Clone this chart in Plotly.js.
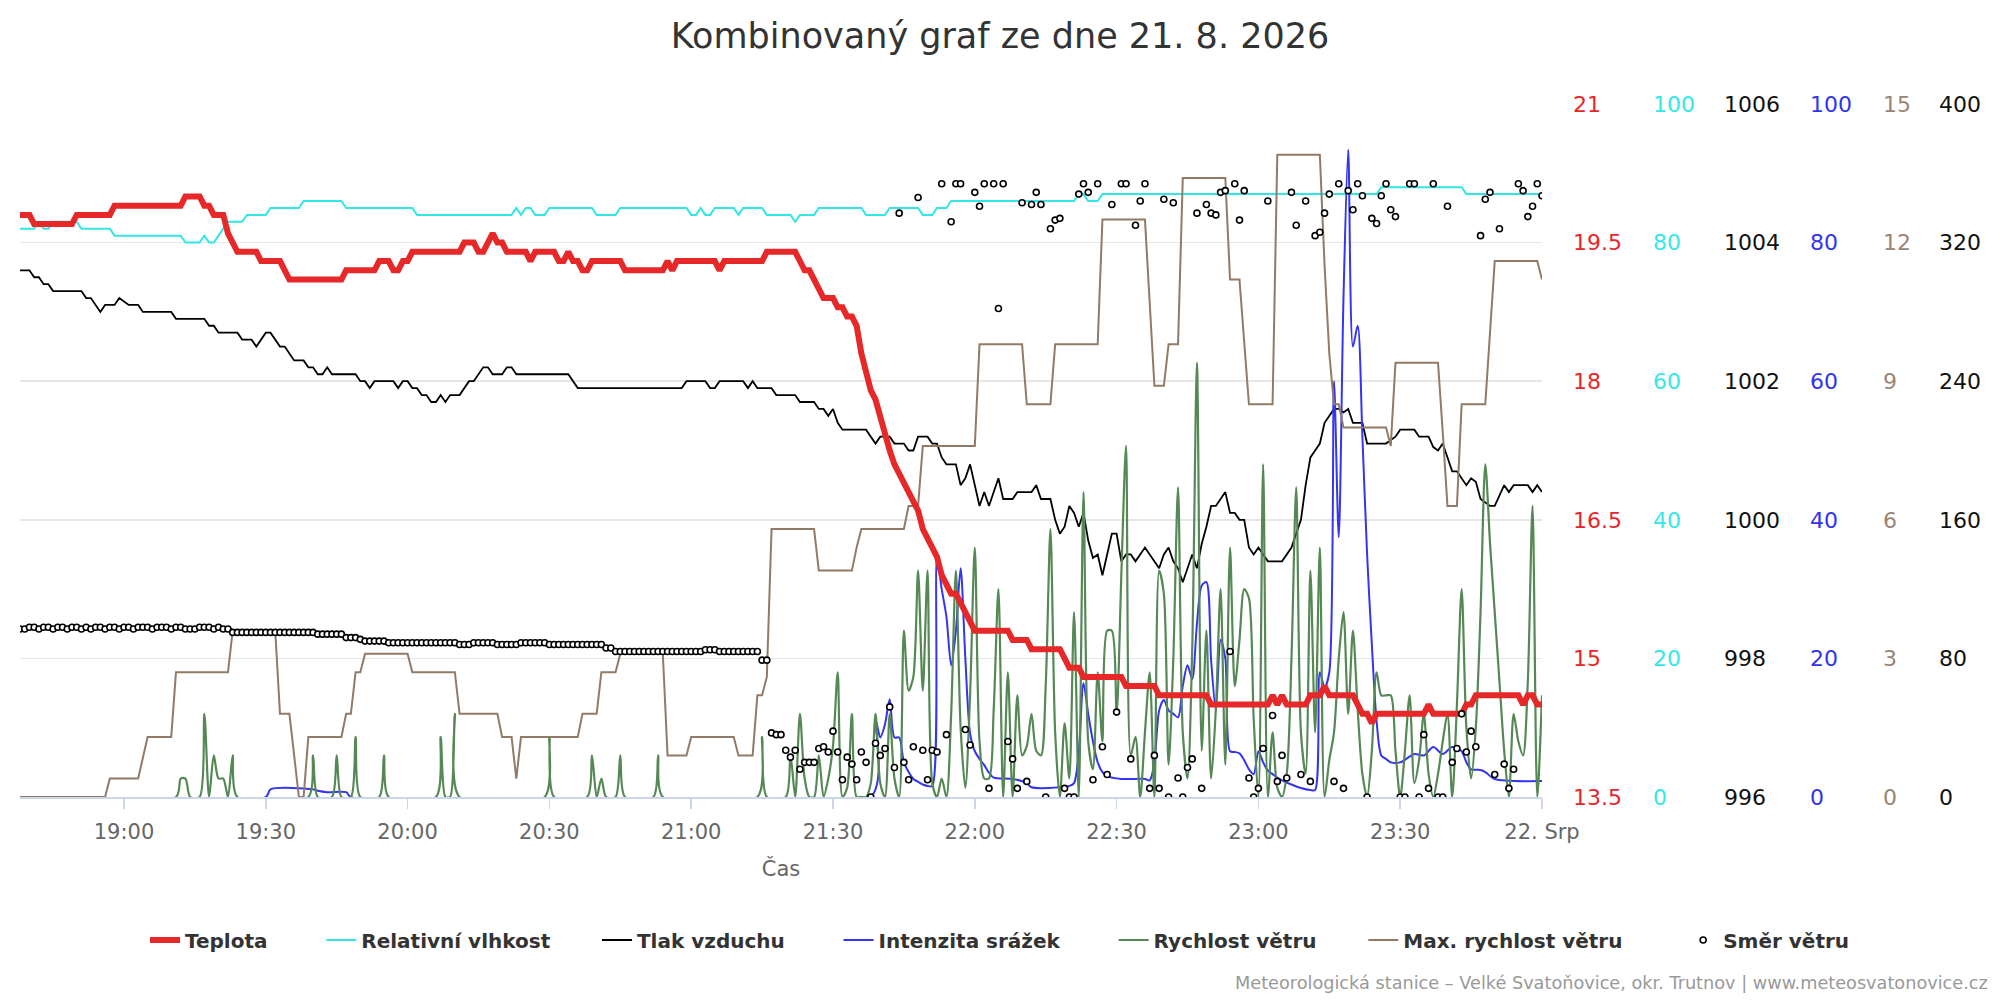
<!DOCTYPE html>
<html>
<head>
<meta charset="utf-8">
<script src="https://cdn.plot.ly/plotly-3.0.1.min.js"></script>
<style>html,body{margin:0;padding:0;background:#fff}#chart{width:2000px;height:1000px}</style>
</head>
<body>
<div id="chart"></div>
<script>
// ---------- DATA ----------
const chartTitle = 'Kombinovaný graf ze dne 21. 8. 2026';
const xTickTimes = ['19:00','19:30','20:00','20:30','21:00','21:30','22:00','22:30','23:00','23:30','24:00'];
const xTickText  = ['19:00','19:30','20:00','20:30','21:00','21:30','22:00','22:30','23:00','23:30','22. Srp'];

const tempTicks = [13.5, 15, 16.5, 18, 19.5, 21];
const tempTickText = ['13.5','15','16.5','18','19.5','21'];
const humTicks = [0, 20, 40, 60, 80, 100];
const presTicks = [996, 998, 1000, 1002, 1004, 1006];
const rainTicks = [0, 20, 40, 60, 80, 100];
const windTicks = [0, 3, 6, 9, 12, 15];
const dirTicks = [0, 80, 160, 240, 320, 400];

// Teplota (°C)
const tempData = [['18:38',19.8],['18:40',19.8],['18:41',19.7],['18:49',19.7],['18:50',19.8],['18:57',19.8],['18:58',19.9],['19:12',19.9],['19:13',20.0],['19:16',20.0],['19:17',19.9],['19:18',19.9],['19:19',19.8],['19:21',19.8],['19:22',19.6],['19:23',19.5],['19:24',19.4],['19:28',19.4],['19:29',19.3],['19:33',19.3],['19:34',19.2],['19:35',19.1],['19:46',19.1],['19:47',19.2],['19:53',19.2],['19:54',19.3],['19:56',19.3],['19:57',19.2],['19:58',19.2],['19:59',19.3],['20:00',19.3],['20:01',19.4],['20:11',19.4],['20:12',19.5],['20:14',19.5],['20:15',19.4],['20:16',19.4],['20:17',19.5],['20:18',19.6],['20:19',19.5],['20:20',19.5],['20:21',19.4],['20:25',19.4],['20:26',19.3],['20:27',19.4],['20:31',19.4],['20:32',19.3],['20:33',19.3],['20:34',19.4],['20:35',19.3],['20:36',19.3],['20:37',19.2],['20:38',19.2],['20:39',19.3],['20:45',19.3],['20:46',19.2],['20:54',19.2],['20:55',19.3],['20:56',19.2],['20:57',19.3],['21:05',19.3],['21:06',19.2],['21:07',19.3],['21:15',19.3],['21:16',19.4],['21:22',19.4],['21:23',19.3],['21:24',19.2],['21:25',19.2],['21:26',19.1],['21:27',19.0],['21:28',18.9],['21:30',18.9],['21:31',18.8],['21:32',18.8],['21:33',18.7],['21:34',18.7],['21:35',18.6],['21:36',18.3],['21:37',18.1],['21:38',17.9],['21:39',17.8],['21:40',17.6],['21:41',17.4],['21:42',17.25],['21:43',17.1],['21:44',17.0],['21:45',16.9],['21:46',16.8],['21:47',16.7],['21:48',16.6],['21:49',16.4],['21:50',16.3],['21:51',16.2],['21:52',16.1],['21:53',15.9],['21:54',15.8],['21:55',15.7],['21:56',15.7],['21:57',15.6],['21:58',15.5],['21:59',15.4],['22:00',15.3],['22:07',15.3],['22:08',15.2],['22:11',15.2],['22:12',15.1],['22:18',15.1],['22:19',15.0],['22:20',14.9],['22:22',14.9],['22:23',14.8],['22:31',14.8],['22:32',14.7],['22:38',14.7],['22:39',14.6],['22:49',14.6],['22:50',14.5],['23:02',14.5],['23:03',14.6],['23:04',14.5],['23:05',14.6],['23:06',14.5],['23:10',14.5],['23:11',14.6],['23:13',14.6],['23:14',14.7],['23:15',14.6],['23:20',14.6],['23:21',14.5],['23:22',14.4],['23:23',14.4],['23:24',14.3],['23:25',14.4],['23:35',14.4],['23:36',14.5],['23:37',14.4],['23:43',14.4],['23:44',14.5],['23:45',14.5],['23:46',14.6],['23:55',14.6],['23:56',14.5],['23:57',14.6],['23:58',14.6],['23:59',14.5],['24:00',14.5]];

// Relativní vlhkost (%)
const humData = [['18:38',82],['18:41',82],['18:42',83],['18:43',82],['18:44',82],['18:45',83],['18:50',83],['18:51',82],['18:57',82],['18:58',81],['19:12',81],['19:13',80],['19:16',80],['19:17',81],['19:18',80],['19:19',80],['19:20',81],['19:21',82],['19:22',83],['19:25',83],['19:26',84],['19:30',84],['19:31',85],['19:37',85],['19:38',86],['19:46',86],['19:47',85],['20:01',85],['20:02',84],['20:22',84],['20:23',85],['20:24',84],['20:25',85],['20:26',85],['20:27',84],['20:29',84],['20:30',85],['20:39',85],['20:40',84],['20:44',84],['20:45',85],['20:59',85],['21:00',84],['21:01',84],['21:02',85],['21:03',84],['21:04',84],['21:05',85],['21:09',85],['21:10',84],['21:11',85],['21:15',85],['21:16',84],['21:21',84],['21:22',83],['21:23',84],['21:26',84],['21:27',85],['21:36',85],['21:37',84],['21:41',84],['21:42',85],['21:48',85],['21:49',84],['21:51',84],['21:52',85],['21:54',85],['21:55',86],['22:21',86],['22:22',87],['22:23',87],['22:24',86],['22:26',86],['22:27',87],['23:25',87],['23:26',88],['23:43',88],['23:44',87],['24:00',87]];

// Tlak vzduchu (hPa)
const presData = [['18:38',1003.6],['18:40',1003.6],['18:41',1003.5],['18:42',1003.5],['18:43',1003.4],['18:44',1003.4],['18:45',1003.3],['18:51',1003.3],['18:52',1003.2],['18:53',1003.2],['18:55',1003.0],['18:56',1003.1],['18:58',1003.1],['18:59',1003.2],['19:01',1003.1],['19:03',1003.1],['19:04',1003.0],['19:10',1003.0],['19:11',1002.9],['19:17',1002.9],['19:18',1002.8],['19:19',1002.8],['19:20',1002.7],['19:24',1002.7],['19:25',1002.6],['19:27',1002.6],['19:28',1002.5],['19:29',1002.6],['19:30',1002.7],['19:31',1002.7],['19:32',1002.6],['19:33',1002.5],['19:34',1002.5],['19:35',1002.4],['19:36',1002.3],['19:38',1002.3],['19:39',1002.2],['19:40',1002.2],['19:41',1002.1],['19:42',1002.1],['19:43',1002.2],['19:44',1002.1],['19:49',1002.1],['19:50',1002.0],['19:51',1002.0],['19:52',1001.9],['19:53',1002.0],['19:57',1002.0],['19:58',1001.9],['19:59',1002.0],['20:00',1002.0],['20:01',1001.9],['20:02',1001.9],['20:03',1001.8],['20:04',1001.8],['20:05',1001.7],['20:06',1001.7],['20:07',1001.8],['20:08',1001.7],['20:09',1001.8],['20:11',1001.8],['20:12',1001.9],['20:13',1002.0],['20:14',1002.0],['20:15',1002.1],['20:16',1002.2],['20:17',1002.2],['20:18',1002.1],['20:20',1002.1],['20:21',1002.2],['20:22',1002.2],['20:23',1002.1],['20:34',1002.1],['20:35',1002.0],['20:36',1001.9],['20:58',1001.9],['20:59',1002.0],['21:03',1002.0],['21:04',1001.9],['21:05',1001.9],['21:06',1002.0],['21:11',1002.0],['21:12',1001.9],['21:13',1002.0],['21:14',1001.9],['21:17',1001.9],['21:18',1001.8],['21:22',1001.8],['21:23',1001.7],['21:26',1001.7],['21:27',1001.6],['21:28',1001.6],['21:29',1001.5],['21:30',1001.6],['21:31',1001.4],['21:32',1001.3],['21:37',1001.3],['21:38',1001.2],['21:39',1001.1],['21:40',1001.2],['21:42',1001.2],['21:43',1001.1],['21:45',1001.1],['21:46',1001.0],['21:47',1001.0],['21:48',1001.2],['21:50',1001.2],['21:51',1001.1],['21:52',1001.1],['21:53',1000.9],['21:54',1000.8],['21:56',1000.8],['21:57',1000.5],['21:58',1000.6],['21:59',1000.8],['22:00',1000.5],['22:01',1000.2],['22:02',1000.4],['22:03',1000.2],['22:04',1000.4],['22:05',1000.6],['22:06',1000.3],['22:08',1000.3],['22:09',1000.4],['22:12',1000.4],['22:13',1000.5],['22:14',1000.3],['22:16',1000.3],['22:17',1000.0],['22:18',999.8],['22:19',999.9],['22:20',1000.2],['22:21',1000.1],['22:22',999.9],['22:23',1000.1],['22:24',999.7],['22:25',999.45],['22:26',999.5],['22:27',999.2],['22:28',999.5],['22:29',999.8],['22:30',999.8],['22:31',999.4],['22:32',999.5],['22:33',999.5],['22:34',999.4],['22:35',999.5],['22:36',999.6],['22:37',999.5],['22:38',999.4],['22:39',999.3],['22:40',999.5],['22:41',999.6],['22:42',999.4],['22:43',999.3],['22:44',999.1],['22:45',999.3],['22:46',999.5],['22:47',999.3],['22:48',999.65],['22:49',999.9],['22:50',1000.2],['22:51',1000.2],['22:52',1000.3],['22:53',1000.4],['22:54',1000.1],['22:55',1000.1],['22:56',1000.0],['22:57',1000.0],['22:58',999.6],['22:59',999.5],['23:00',999.6],['23:01',999.5],['23:02',999.4],['23:05',999.4],['23:06',999.5],['23:07',999.6],['23:08',999.8],['23:09',1000.0],['23:10',1000.5],['23:11',1000.9],['23:12',1001.0],['23:13',1001.1],['23:14',1001.4],['23:15',1001.5],['23:16',1001.6],['23:17',1001.6],['23:18',1001.55],['23:19',1001.6],['23:20',1001.4],['23:22',1001.4],['23:23',1001.1],['23:27',1001.1],['23:28',1001.15],['23:29',1001.2],['23:30',1001.3],['23:33',1001.3],['23:34',1001.2],['23:36',1001.2],['23:37',1001.05],['23:38',1001.0],['23:39',1001.1],['23:40',1000.9],['23:41',1000.7],['23:42',1000.7],['23:43',1000.6],['23:44',1000.5],['23:45',1000.6],['23:46',1000.55],['23:47',1000.3],['23:48',1000.25],['23:49',1000.2],['23:50',1000.2],['23:51',1000.35],['23:52',1000.5],['23:53',1000.4],['23:54',1000.5],['23:57',1000.5],['23:58',1000.4],['23:59',1000.5],['24:00',1000.4]];

// Intenzita srážek
const rainData = [['18:38',0],['19:30',0],['19:31',1.1],['19:40',1.1],['19:41',0.9],['19:43',0.7],['19:47',0.7],['19:48',0],['21:38',0],['21:39',11.2],['21:40',8.6],['21:41',10.5],['21:42',14.1],['21:43',8.6],['21:44',8.6],['21:45',5.0],['21:46',3.6],['21:47',2.6],['21:48',2.2],['21:49',1.8],['21:50',1.6],['21:51',1.6],['21:52',34.5],['21:53',30],['21:54',26],['21:55',19],['21:56',24],['21:57',33],['21:58',20],['21:59',9.2],['22:00',6.6],['22:01',5.5],['22:02',4.6],['22:03',3.5],['22:04',2.8],['22:08',2.6],['22:11',2.0],['22:12',1.4],['22:18',1.4],['22:20',1.6],['22:21',2.0],['22:22',6.6],['22:23',16.4],['22:24',12],['22:25',8],['22:26',5],['22:27',3.6],['22:28',3.0],['22:31',2.6],['22:36',2.6],['22:37',2.4],['22:38',5.0],['22:39',12.5],['22:40',14],['22:41',12.5],['22:42',12],['22:43',11.5],['22:44',16],['22:45',19],['22:46',17],['22:47',25],['22:48',30.5],['22:49',31],['22:50',19.7],['22:51',12.5],['22:52',22.7],['22:53',20],['22:54',6.6],['22:55',6.5],['22:56',6.3],['22:57',5.3],['22:58',4.0],['22:59',3.3],['23:00',6.6],['23:01',5.0],['23:02',3.8],['23:03',3.3],['23:04',2.8],['23:05',2.4],['23:07',1.8],['23:09',1.3],['23:11',1.0],['23:12',1.0],['23:13',18],['23:14',15.8],['23:15',18],['23:16',60],['23:17',37.5],['23:18',72],['23:19',93.4],['23:20',65],['23:21',68],['23:22',52],['23:23',35],['23:24',22],['23:25',11],['23:26',6],['23:27',5.5],['23:28',5],['23:30',5],['23:33',6.2],['23:35',6],['23:37',7.2],['23:39',6.2],['23:41',7.2],['23:43',6.6],['23:44',5],['23:45',4],['23:47',3.9],['23:48',3.6],['23:50',2.6],['24:00',2.3]];

// Rychlost větru (m/s)
const windData = [['18:38',0],['19:11',0],['19:12',0.4],['19:13',0.4],['19:14',0],['19:16',0],['19:17',1.8],['19:18',0],['19:19',0.9],['19:20',0.4],['19:21',0.4],['19:22',0],['19:23',0.9],['19:24',0],['19:39',0],['19:40',0.9],['19:41',0],['19:44',0],['19:45',0.9],['19:46',0],['19:48',0],['19:49',1.3],['19:50',0],['19:54',0],['19:55',0.9],['19:56',0],['20:06',0],['20:07',1.3],['20:08',0],['20:09',0],['20:10',1.8],['20:11',0],['20:29',0],['20:30',1.3],['20:31',0],['20:38',0],['20:39',0.9],['20:40',0],['20:41',0.4],['20:42',0],['20:44',0],['20:45',0.9],['20:46',0],['20:52',0],['20:53',0.9],['20:54',0],['21:14',0],['21:15',1.3],['21:16',0],['21:20',0],['21:21',0.9],['21:22',0],['21:23',1.8],['21:24',0.4],['21:25',0],['21:26',0],['21:27',0.9],['21:28',0],['21:29',0.4],['21:30',1.1],['21:31',2.7],['21:32',0],['21:33',0.2],['21:34',1.8],['21:35',0],['21:36',0],['21:37',0],['21:38',0.3],['21:39',1.8],['21:40',0.3],['21:41',0],['21:42',1.8],['21:43',0.4],['21:44',0],['21:45',3.6],['21:46',2.3],['21:47',2.6],['21:48',4.9],['21:49',2.3],['21:50',4.9],['21:51',0.3],['21:52',0],['21:53',0.4],['21:54',0],['21:55',1.8],['21:56',4.9],['21:57',1.5],['21:58',0.2],['21:59',2.2],['22:00',5.4],['22:01',1.2],['22:02',0.4],['22:03',0.4],['22:04',1.9],['22:05',4.5],['22:06',0],['22:07',2.7],['22:08',0],['22:09',2.2],['22:10',0.9],['22:11',1.1],['22:12',1.8],['22:13',1.0],['22:14',0.9],['22:15',2.4],['22:16',5.8],['22:17',1.4],['22:18',0],['22:19',1.6],['22:20',0.4],['22:21',4.0],['22:22',0],['22:23',6.6],['22:24',1.2],['22:25',0.6],['22:26',2.7],['22:27',1.2],['22:28',3.6],['22:29',3.6],['22:30',1.8],['22:31',4.8],['22:32',7.6],['22:33',0.9],['22:34',1.3],['22:35',0],['22:36',1.4],['22:37',2.7],['22:38',0],['22:39',4.9],['22:40',4.4],['22:41',0.7],['22:42',3.0],['22:43',6.7],['22:44',1.4],['22:45',0.4],['22:46',3.2],['22:47',9.4],['22:48',1.0],['22:49',3.6],['22:50',0.4],['22:51',1.9],['22:52',4.5],['22:53',0.7],['22:54',5.4],['22:55',2.4],['22:56',3.4],['22:57',4.5],['22:58',4.3],['22:59',1.7],['23:00',0],['23:01',7.2],['23:02',0],['23:03',1.4],['23:04',0.2],['23:05',0],['23:06',0.5],['23:07',3.0],['23:08',6.7],['23:09',1.4],['23:10',0.5],['23:11',4.9],['23:12',1.4],['23:13',5.4],['23:14',0],['23:15',0.8],['23:16',1.4],['23:17',3.0],['23:18',4.0],['23:19',1.8],['23:20',3.6],['23:21',1.9],['23:22',0.5],['23:23',0],['23:24',1.0],['23:25',2.7],['23:26',2.2],['23:27',2.2],['23:28',2.2],['23:29',1.0],['23:30',0],['23:31',1.0],['23:32',2.2],['23:33',0.3],['23:34',0.8],['23:35',1.8],['23:36',0.5],['23:37',0],['23:38',0.5],['23:39',1.2],['23:40',1.8],['23:41',0],['23:42',2.0],['23:43',4.5],['23:44',1.5],['23:45',0.4],['23:46',1.5],['23:47',4.0],['23:48',7.2],['23:49',5.5],['23:50',4.0],['23:51',2.5],['23:52',1.0],['23:53',0],['23:54',1.8],['23:55',1.2],['23:56',0.9],['23:57',2.5],['23:58',6.3],['23:59',0],['24:00',2.2]];

// Max. rychlost větru (m/s)
const gustData = [['18:38',0],['18:56',0],['18:57',0.4],['19:03',0.4],['19:05',1.3],['19:10',1.3],['19:11',2.7],['19:22',2.7],['19:23',3.6],['19:32',3.6],['19:33',1.8],['19:35',1.8],['19:37',0],['19:38',0],['19:39',1.3],['19:46',1.3],['19:47',1.8],['19:48',1.8],['19:49',2.7],['19:50',2.7],['19:51',3.1],['20:00',3.1],['20:01',2.7],['20:10',2.7],['20:11',1.8],['20:19',1.8],['20:20',1.3],['20:22',1.3],['20:23',0.4],['20:24',1.3],['20:36',1.3],['20:37',1.8],['20:40',1.8],['20:41',2.7],['20:44',2.7],['20:45',3.1],['20:54',3.1],['20:55',0.9],['20:59',0.9],['21:00',1.3],['21:09',1.3],['21:10',0.9],['21:13',0.9],['21:14',2.2],['21:15',2.2],['21:16',2.6],['21:17',5.8],['21:26',5.8],['21:27',4.9],['21:34',4.9],['21:35',5.4],['21:36',5.8],['21:45',5.8],['21:46',6.3],['21:48',6.3],['21:49',7.6],['22:00',7.6],['22:01',9.8],['22:10',9.8],['22:11',8.5],['22:16',8.5],['22:17',9.8],['22:26',9.8],['22:27',12.5],['22:36',12.5],['22:37',10.7],['22:38',8.9],['22:40',8.9],['22:41',9.8],['22:43',9.8],['22:44',13.4],['22:53',13.4],['22:54',11.2],['22:56',11.2],['22:57',9.8],['22:58',8.5],['23:03',8.5],['23:04',13.9],['23:13',13.9],['23:14',11.5],['23:15',9.6],['23:16',8.5],['23:17',8.5],['23:18',8.0],['23:27',8.0],['23:28',7.6],['23:29',9.4],['23:38',9.4],['23:39',7.9],['23:40',6.3],['23:42',6.3],['23:43',8.5],['23:48',8.5],['23:49',10.0],['23:50',11.6],['23:59',11.6],['24:00',11.2]];

// Směr větru (°), one reading per minute from 18:38 to 00:00
const dirStart = '18:38';
const dirVal = [
 97,97,98,98,97,98,98,97,98,98,   // 18:38
 97,98,98,97,98,97,98,98,97,98,   // 18:48
 98,97,98,98,97,98,98,98,97,98,   // 18:58
 98,98,97,98,98,97,97,97,98,98,   // 19:08
 98,97,98,97,97,95,95,95,95,95,   // 19:18
 95,95,95,95,95,95,95,95,95,95,   // 19:28
 95,95,95,94,94,94,94,94,94,92,   // 19:38
 92,92,91,90,90,90,90,90,89,89,   // 19:48
 89,89,89,89,89,89,89,89,89,89,   // 19:58
 89,89,89,88,88,88,89,89,89,89,   // 20:08
 89,88,88,88,88,88,89,89,89,89,   // 20:18
 89,89,88,88,88,88,88,88,88,88,   // 20:28
 88,88,88,88,86,86,84,84,84,84,   // 20:38
 84,84,84,84,84,84,84,84,84,84,   // 20:48
 84,84,84,84,84,85,85,85,84,84,   // 20:58
 84,84,84,84,84,84,84,79,79,37,   // 21:08
 36,36,27,23,27,16,20,20,20,28,   // 21:18
 29,26,38,26,10,23,19,10,26,20,   // 21:28
 0,31,24,28,52,17,337,20,10,29,   // 21:38
 346,27,10,27,26,354,36,332,354,354, // 21:48
 39,30,349,341,354,5,354,282,354,32, // 21:58
 22,5,343,9,342,349,342,0,328,333,   // 22:08
 334,5,0,0,348,354,349,10,354,29,    // 22:18
 13,342,49,354,354,22,330,344,354,5, // 22:28
 24,5,345,0,343,11,0,17,22,337,      // 22:38
 5,342,337,336,349,350,84,354,333,350, // 22:48
 11,0,5,28,344,47,9,24,11,349,       // 22:58
 330,13,344,9,324,326,337,348,9,354, // 23:08
 5,350,339,354,347,0,334,331,347,354, // 23:18
 339,335,0,0,354,354,0,36,5,354,     // 23:28
 0,0,341,20,28,48,26,38,29,324,      // 23:38
 345,349,13,328,19,5,16,354,350,335, // 23:48
 341,354,347                         // 23:58
];

const creditText = 'Meteorologická stanice – Velké Svatoňovice, okr. Trutnov | www.meteosvatonovice.cz';

// ---------- helpers ----------
function toDate(hm) {
  const p = hm.split(':');
  const h = parseInt(p[0], 10), m = parseInt(p[1], 10);
  if (h >= 24) return '2026-08-22 ' + String(h - 24).padStart(2, '0') + ':' + String(m).padStart(2, '0');
  return '2026-08-21 ' + String(h).padStart(2, '0') + ':' + String(m).padStart(2, '0');
}
function minuteToHM(total) {
  return Math.floor(total / 60) + ':' + String(total % 60).padStart(2, '0');
}
const xs = d => d.map(r => toDate(r[0]));
const ys = d => d.map(r => r[1]);
const startMin = parseInt(dirStart.split(':')[0], 10) * 60 + parseInt(dirStart.split(':')[1], 10);
const dirTime = dirVal.map((_, i) => toDate(minuteToHM(startMin + i)));

// ---------- styling ----------
const FONT = 'DejaVu Sans, Verdana, sans-serif';
const C = {
  temp: '#e62828', hum: '#33e6e6', pres: '#000000', rain: '#3434f2',
  wind: '#558855', gust: '#917b67', dir: '#000000'
};
const LBL = { temp: '#e8262a', hum: '#33e8e8', pres: '#111111', rain: '#3333ee', gust: '#9a8573', dir: '#111111' };

const PL = 20, PR = 1542, W = 2000;
const paperW = W - PL;
const pos = px => (px - PL - 1) / paperW;

function yAx(range, ticks, text, color, px, extra) {
  return Object.assign({
    range: range, tickmode: 'array', tickvals: ticks, ticktext: text || ticks.map(String),
    side: 'right', anchor: 'free', position: pos(px),
    showgrid: false, zeroline: false, showline: false, ticks: '',
    tickfont: { family: FONT, size: 22, color: color }, fixedrange: true
  }, extra || {});
}

const sp = n => '\u00a0'.repeat(n);
const traces = [
  { name: 'Relativní vlhkost' + sp(6), legendrank: 2, x: xs(humData), y: ys(humData), yaxis: 'y',
    mode: 'lines', line: { color: C.hum, width: 2 } },
  { name: 'Tlak vzduchu' + sp(7), legendrank: 3, x: xs(presData), y: ys(presData), yaxis: 'y2',
    mode: 'lines', line: { color: C.pres, width: 1.8 } },
  { name: 'Intenzita srážek' + sp(7), legendrank: 4, x: xs(rainData), y: ys(rainData), yaxis: 'y3',
    mode: 'lines', line: { color: C.rain, width: 2, shape: 'spline', smoothing: 0.8 } },
  { name: 'Rychlost větru' + sp(6), legendrank: 5, x: xs(windData), y: ys(windData), yaxis: 'y4',
    mode: 'lines', line: { color: C.wind, width: 2.2, shape: 'spline', smoothing: 0.8 } },
  { name: 'Max. rychlost větru' + sp(8), legendrank: 6, x: xs(gustData), y: ys(gustData), yaxis: 'y4',
    mode: 'lines', line: { color: C.gust, width: 2 } },
  { name: 'Teplota' + sp(7), legendrank: 1, x: xs(tempData), y: ys(tempData), yaxis: 'y5',
    mode: 'lines', line: { color: C.temp, width: 6 } },
  { name: 'Směr větru', legendrank: 7, x: dirTime, y: dirVal, yaxis: 'y6',
    mode: 'markers', marker: { size: 6, color: '#ffffff', line: { color: C.dir, width: 1.6 } } }
];

const layout = {
  width: 2000, height: 1000,
  margin: { l: PL, r: 0, t: 104, b: 203, pad: 0 },
  paper_bgcolor: '#ffffff', plot_bgcolor: '#ffffff',
  font: { family: FONT, size: 21, color: '#333333' },
  title: { text: chartTitle, font: { family: FONT, size: 35, color: '#333333' },
           x: 0.5, xref: 'container', xanchor: 'center', y: 0.964, yref: 'container', yanchor: 'middle' },
  showlegend: true,
  legend: { orientation: 'h', x: 0.5, xanchor: 'center', xref: 'container',
            y: 0.06, yanchor: 'middle', yref: 'container', traceorder: 'normal',
            font: { family: FONT, size: 20, color: '#333333', weight: 'bold' }, itemwidth: 30 },
  xaxis: {
    type: 'date', domain: [0, (PR - PL) / paperW],
    range: [toDate('18:38'), toDate('24:00')],
    tickmode: 'array', tickvals: xTickTimes.map(toDate), ticktext: xTickText,
    ticks: 'outside', ticklen: 10, tickwidth: 1.5, tickcolor: '#ccd6eb', ticklabelstandoff: 5,
    showline: true, linecolor: '#ccd6eb', linewidth: 2, showgrid: false, zeroline: false,
    tickfont: { family: FONT, size: 21, color: '#666666' },
    title: { text: 'Čas', font: { family: FONT, size: 21, color: '#666666' }, standoff: 18 },
    fixedrange: true
  },
  yaxis: yAx([0, 100], humTicks, null, LBL.hum, 1653, { showgrid: true, gridcolor: '#e6e6e6', gridwidth: 1.5 }),
  yaxis2: yAx([996, 1006], presTicks, null, LBL.pres, 1724, { overlaying: 'y' }),
  yaxis3: yAx([0, 100], rainTicks, null, LBL.rain, 1810, { overlaying: 'y' }),
  yaxis4: yAx([0, 15], windTicks, null, LBL.gust, 1883, { overlaying: 'y' }),
  yaxis5: yAx([13.5, 21], tempTicks, tempTickText, LBL.temp, 1573, { overlaying: 'y' }),
  yaxis6: yAx([0, 400], dirTicks, null, LBL.dir, 1939, { overlaying: 'y' }),
  annotations: [{
    text: creditText, showarrow: false, xref: 'paper', yref: 'paper',
    x: (1990 - PL) / paperW, xanchor: 'right', y: (797 - 983) / 693, yanchor: 'middle',
    font: { family: FONT, size: 17.7, color: '#999999' }
  }]
};

Plotly.newPlot('chart', traces, layout, { displayModeBar: false, staticPlot: true });
</script>
</body>
</html>
